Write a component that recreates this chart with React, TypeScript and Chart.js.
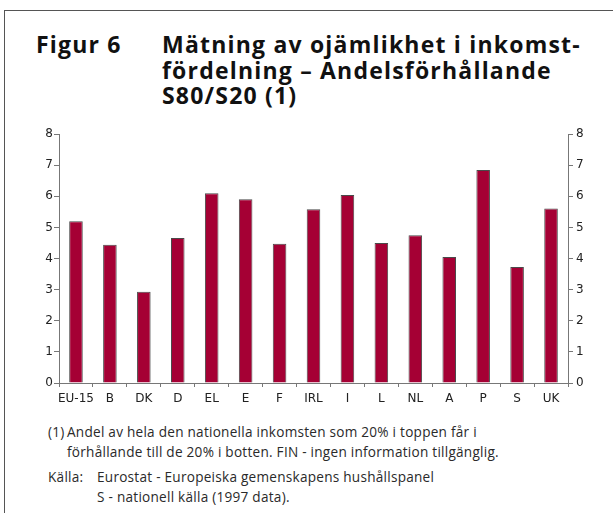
import React, { useEffect, useRef } from "react";
import { Chart, registerables } from "chart.js";

Chart.register(...registerables);

const categories = ["EU-15", "B", "DK", "D", "EL", "E", "F", "IRL", "I", "L", "NL", "A", "P", "S", "UK"];
const values = [5.2, 4.44, 2.93, 4.66, 6.1, 5.9, 4.47, 5.58, 6.04, 4.5, 4.75, 4.05, 6.84, 3.73, 5.61];
const yMin = 0;
const yMax = 8;

const titleLabel = "Figur 6";
const titleLines = ["Mätning av ojämlikhet i inkomst-", "fördelning – Andelsförhållande", "S80/S20 (1)"];
const noteLines = [
  "Andel av hela den nationella inkomsten som 20% i toppen får i",
  "förhållande till de 20% i botten. FIN - ingen information tillgänglig.",
];
const sourceLines = ["Eurostat - Europeiska gemenskapens hushållspanel", "S - nationell källa (1997 data)."];

const tickFont = { family: "'DejaVu Sans', Verdana, sans-serif", size: 12 };
const axisColor = "#777";
const textColor = "#222";

export default function App() {
  const ref = useRef<HTMLCanvasElement | null>(null);

  useEffect(() => {
    if (!ref.current) return;
    const chart = new Chart(ref.current, {
      type: "bar",
      data: {
        labels: categories,
        datasets: [
          {
            data: values,
            backgroundColor: "#A50034",
            borderColor: "#4a4a4a",
            borderWidth: 1,
            categoryPercentage: 1,
            barPercentage: 0.4,
            yAxisID: "y",
          },
        ],
      },
      options: {
        animation: false,
        responsive: true,
        maintainAspectRatio: false,
        layout: { padding: { top: 14, left: 0, right: 0, bottom: 0 } },
        plugins: { legend: { display: false }, tooltip: { enabled: false } },
        scales: {
          x: {
            offset: true,
            grid: {
              offset: true,
              drawOnChartArea: false,
              drawTicks: true,
              tickLength: 4,
              color: axisColor,
            },
            border: { display: true, color: axisColor },
            ticks: { font: tickFont, color: textColor, padding: 5, maxRotation: 0, autoSkip: false },
            afterFit: (s: any) => {
              s.height = 27;
            },
          },
          y: {
            position: "left",
            min: yMin,
            max: yMax,
            grid: { drawOnChartArea: false, drawTicks: true, tickLength: 5, color: axisColor },
            border: { display: true, color: axisColor },
            ticks: { stepSize: 1, font: tickFont, color: textColor, padding: 1 },
            afterFit: (s: any) => {
              s.width = 59;
            },
          },
          y2: {
            position: "right",
            min: yMin,
            max: yMax,
            grid: { drawOnChartArea: false, drawTicks: true, tickLength: 5, color: axisColor },
            border: { display: true, color: axisColor },
            ticks: { stepSize: 1, font: tickFont, color: textColor, padding: 3 },
            afterFit: (s: any) => {
              s.width = 45;
            },
          },
        },
      },
    });
    return () => chart.destroy();
  }, []);

  const titleStyle: React.CSSProperties = {
    position: "absolute",
    fontFamily: "'Open Sans', sans-serif",
    fontWeight: 700,
    fontSize: 23,
    letterSpacing: "1.2px",
    lineHeight: "25.5px",
    color: "#111",
    whiteSpace: "nowrap",
  };
  const noteStyle: React.CSSProperties = {
    position: "absolute",
    fontFamily: "'Open Sans', sans-serif",
    fontWeight: 400,
    fontSize: 13.6,
    letterSpacing: "0.25px",
    lineHeight: "20px",
    color: "#2a2a2a",
    whiteSpace: "nowrap",
  };

  return (
    <div style={{ position: "absolute", left: 0, top: 0, width: 613, height: 513, background: "#fff", overflow: "hidden" }}>
      <div style={{ position: "absolute", left: 4, top: 10, width: 609, height: 1, background: "#555" }} />
      <div style={{ position: "absolute", left: 4, top: 10, width: 1, height: 503, background: "#555" }} />
      <div style={{ ...titleStyle, left: 36, top: 32 }}>{titleLabel}</div>
      <div style={{ ...titleStyle, left: 162, top: 32 }}>
        {titleLines.map((l, i) => (
          <div key={i}>{l}</div>
        ))}
      </div>
      <div style={{ position: "absolute", left: 0, top: 120, width: 613, height: 290 }}>
        <canvas ref={ref} />
      </div>
      <div style={{ ...noteStyle, left: 48, top: 422 }}>(1)</div>
      <div style={{ ...noteStyle, left: 67, top: 422 }}>
        {noteLines.map((l, i) => (
          <div key={i}>{l}</div>
        ))}
      </div>
      <div style={{ ...noteStyle, left: 48, top: 467 }}>Källa:</div>
      <div style={{ ...noteStyle, left: 97, top: 467 }}>
        {sourceLines.map((l, i) => (
          <div key={i}>{l}</div>
        ))}
      </div>
    </div>
  );
}
